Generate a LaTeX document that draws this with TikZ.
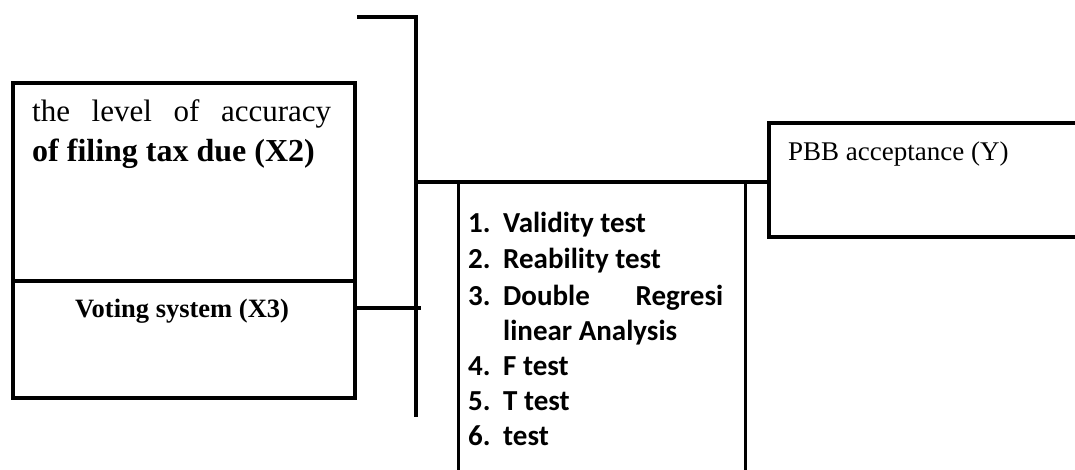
\documentclass[tikz,border=0pt]{standalone}
\usepackage{fontspec}
\setmainfont{Liberation Serif}
\newfontfamily\listfont{Carlito}
\begin{document}
\begin{tikzpicture}[x=1pt,y=-1pt,
  wire/.style={line width=4pt},
  box/.style={draw, line width=4pt, inner sep=0pt, anchor=north west},
  openbox/.style={line width=3.3pt},
  serif/.style={inner sep=0pt, anchor=base west},
  item/.style={inner sep=0pt, anchor=base west, font=\listfont\bfseries\fontsize{29}{35}\selectfont},
]
\useasboundingbox (0,0) rectangle (1075,469);
\clip (0,0) rectangle (1075,469);

% variable boxes on the left
\node[box, minimum width=342pt, minimum height=198.5pt] (x2) at (11,80.5) {};
\node[box, minimum width=342pt, minimum height=117pt] (x3) at (11,279) {};

% result box on the right (runs off the page)
\node[box, minimum width=420pt, minimum height=114pt] (y) at (767,121.3) {};

% bus lines
\coordinate (stub) at (x2.north east |- 0,17);
\coordinate (corner) at (415.7,17);
\coordinate (busend) at (415.7,416.7);
\coordinate (busmid) at (415.7,182);
\coordinate (x3tap) at (420.7,308);
\draw[wire, line join=miter] (stub) -- (corner) -- (busend);
\draw[wire] (busmid) -- (y.west |- busmid);
\draw[wire] (x3.east |- x3tap) -- (x3tap);

% analysis box, open at the bottom
\coordinate (mtl) at (458.3,184);
\coordinate (mtr) at (745.3,184);
\coordinate (mbl) at (458.3,480);
\coordinate (mbr) at (745.3,480);
\draw[openbox] (mbl) -- (mtl);
\draw[openbox] (mbr) -- (mtr);

% texts
\node[serif, font=\fontsize{31}{40}\selectfont] (x2a) at (32,121) {\makebox[299pt][s]{the level of accuracy}};
\node[serif, font=\bfseries\fontsize{32}{40}\selectfont] (x2b) at (32,161) {of filing tax due (X2)};
\node[inner sep=0pt, anchor=base, font=\bfseries\fontsize{26.5}{30}\selectfont] (x3t) at (182,317) {Voting system (X3)};
\node[serif, font=\fontsize{27}{32}\selectfont] (yt) at (788,160) {PBB acceptance (Y)};

\node[item] (l1) at (468,232) {\makebox[35pt][l]{1.}Validity test};
\node[item] (l2) at (468,268) {\makebox[35pt][l]{2.}Reability test};
\node[item] (l3) at (468,305) {\makebox[35pt][l]{3.}\makebox[220pt][s]{Double Regresi}};
\node[item] (l3b) at (503,340) {linear Analysis};
\node[item] (l4) at (468,375) {\makebox[35pt][l]{4.}F test};
\node[item] (l5) at (468,410) {\makebox[35pt][l]{5.}T test};
\node[item] (l6) at (468,445) {\makebox[35pt][l]{6.}test};
\end{tikzpicture}
\end{document}
